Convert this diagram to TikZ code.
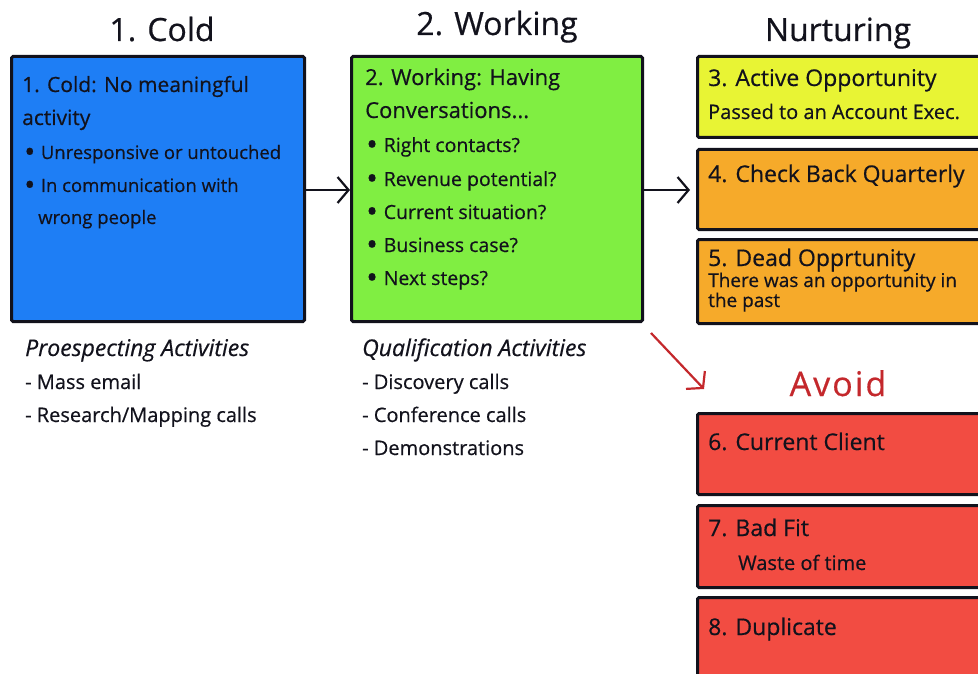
\documentclass[tikz,border=0pt]{standalone}
\usepackage{fontspec}
\setmainfont{Open Sans}[FakeBold=0.5]
\usetikzlibrary{arrows.meta}
\definecolor{coldblue}{RGB}{30,126,245}
\definecolor{workgreen}{RGB}{128,238,66}
\definecolor{activeyellow}{RGB}{232,244,52}
\definecolor{nurtureorange}{RGB}{246,170,42}
\definecolor{avoidred}{RGB}{242,76,66}
\definecolor{avoidtext}{RGB}{196,40,44}
\definecolor{ink}{RGB}{18,18,28}
% large round bullet for the box lists
\newcommand\bigdot{\raisebox{-0.17em}{\scalebox{1.6}{•}}\hspace{0.3em}}
\tikzset{
  stage/.style={draw=ink, line width=3pt, rounded corners=1.5pt, anchor=north west, inner sep=0pt},
  title/.style={anchor=base, font=\fontsize{32}{32}\selectfont, text=ink},
  head/.style={anchor=base west, font=\fontsize{21}{21}\selectfont, text=ink, inner sep=0pt},
  rhead/.style={head, font=\fontsize{23}{23}\selectfont},
  item/.style={anchor=base west, font=\fontsize{18.5}{18.5}\selectfont, text=ink, inner sep=0pt},
  ritem/.style={item, font=\fontsize{20}{20}\selectfont},
  small/.style={anchor=base west, font=\fontsize{19}{19}\selectfont, text=ink, inner sep=0pt},
  list/.style={anchor=base west, font=\fontsize{20}{20}\selectfont, text=ink, inner sep=0pt},
  listhead/.style={anchor=base west, font=\fontsize{23}{23}\selectfont\itshape, text=ink, inner sep=0pt},
  flow/.style={draw=ink, line width=2.2pt, -{Straight Barb[length=11pt,width=26pt,line width=2.2pt]}},
}
\begin{document}
\begin{tikzpicture}[x=1pt,y=-1pt]
\useasboundingbox (0,0) rectangle (978,674);
\clip (0,0) rectangle (978,674);
\fill[white] (0,0) rectangle (978,674);

% column titles
\node[title] (tcold) at (162,41) {1. Cold};
\node[title] (twork) at (497,35) {2. Working};
\node[title] (tnurt) at (838,41) {Nurturing};
\node[title, text=avoidtext, font=\fontsize{34}{34}\selectfont\addfontfeatures{LetterSpace=6}] (tavoid) at (838,396) {Avoid};

% stage boxes
\node[stage, fill=coldblue, minimum width=293pt, minimum height=265pt] (cold) at (10,55) {};
\node[stage, fill=workgreen, minimum width=291pt, minimum height=265pt] (work) at (350,55) {};
\node[stage, fill=activeyellow, minimum width=300pt, minimum height=81pt] (active) at (696,55) {};
\node[stage, fill=nurtureorange, minimum width=300pt, minimum height=80pt] (check) at (696,148) {};
\node[stage, fill=nurtureorange, minimum width=300pt, minimum height=84pt] (dead) at (696,238) {};
\node[stage, fill=avoidred, minimum width=300pt, minimum height=81pt] (client) at (696,412) {};
\node[stage, fill=avoidred, minimum width=300pt, minimum height=82pt] (badfit) at (696,504) {};
\node[stage, fill=avoidred, minimum width=300pt, minimum height=90pt] (dup) at (696,596) {};

% cold box text
\node[head] (c1) at (22,92) {1. Cold: No meaningful};
\node[head] (c2) at (22,125) {activity};
\node[item] (c3) at (24,159) {\bigdot Unresponsive or untouched};
\node[item] (c4) at (24,192) {\bigdot In communication with};
\node[item] (c5) at (38,224) {wrong people};

% working box text
\node[head, font=\fontsize{22}{22}\selectfont] (w1) at (365,85) {2. Working: Having};
\node[head, font=\fontsize{22}{22}\selectfont] (w2) at (365,118) {Conversations...};
\node[item, font=\fontsize{19.5}{19.5}\selectfont] (w3) at (366,152) {\bigdot Right contacts?};
\node[item, font=\fontsize{19.5}{19.5}\selectfont] (w4) at (366,186) {\bigdot Revenue potential?};
\node[item, font=\fontsize{19.5}{19.5}\selectfont] (w5) at (366,219) {\bigdot Current situation?};
\node[item, font=\fontsize{19.5}{19.5}\selectfont] (w6) at (366,252) {\bigdot Business case?};
\node[item, font=\fontsize{19.5}{19.5}\selectfont] (w7) at (366,285) {\bigdot Next steps?};

% nurturing box text
\node[rhead] (a1) at (708,86) {3. Active Opportunity};
\node[ritem] (a2) at (708,119) {Passed to an Account Exec.};
\node[rhead] (k1) at (708,182) {4. Check Back Quarterly};
\node[rhead] (d1) at (708,266) {5. Dead Opprtunity};
\node[small] (d2) at (708,287) {There was an opportunity in};
\node[small] (d3) at (708,307) {the past};

% avoid box text
\node[rhead] (r1) at (708,450) {6. Current Client};
\node[rhead] (r2) at (708,536) {7. Bad Fit};
\node[ritem] (r3) at (738,570) {Waste of time};
\node[rhead] (r4) at (708,635) {8. Duplicate};

% activity lists under the boxes
\node[listhead] (p0) at (25,356) {Proespecting Activities};
\node[list] (p1) at (25,389) {- Mass email};
\node[list] (p2) at (25,422) {- Research/Mapping calls};
\node[listhead] (q0) at (362,356) {Qualification Activities};
\node[list] (q1) at (362,389) {- Discovery calls};
\node[list] (q2) at (362,422) {- Conference calls};
\node[list] (q3) at (362,455) {- Demonstrations};

% connectors
\coordinate (nurtin) at (690,190);
\coordinate (rtail) at (651,333);
\coordinate (rhead) at (704,389);
\draw[flow] (cold.east |- 0,190) -- (work.west |- 0,190);
\draw[flow] (work.east |- 0,190) -- (nurtin);
\draw[flow, draw=avoidtext] (rtail) -- (rhead);
\end{tikzpicture}
\end{document}
